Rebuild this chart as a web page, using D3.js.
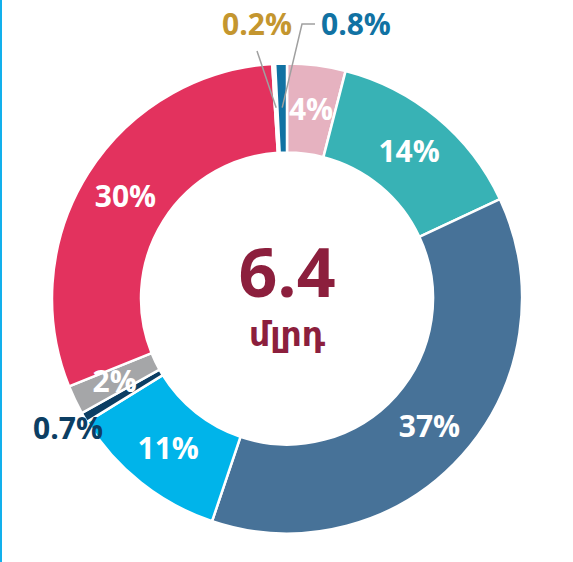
<!DOCTYPE html>
<html>
<head>
<meta charset="utf-8">
<script src="https://cdn.jsdelivr.net/npm/d3@7"></script>
<style>
  body { margin: 0; background: #fff; }
  svg { display: block; }
</style>
</head>
<body>
<svg width="573" height="562"></svg>
<script>
// slice data, clockwise from 12 o'clock
var labels = ["4%", "14%", "37%", "11%", "0.7%", "2%", "30%", "0.2%", "0.8%"];
var values = [4, 14, 37, 11, 0.7, 2, 30, 0.2, 0.8];
var colors = ["#e6b2c0", "#38b2b5", "#477298", "#00b4ea", "#0c3e63", "#a5a6a8", "#e3325e", "#ffffff", "#1172a3"];
// labels drawn outside the ring (with their text colour)
var outsideColors = {"0.7%": "#0c3e63", "0.2%": "#c4962f", "0.8%": "#1172a3"};
var centerValue = "6.4";
var centerUnit = "մլրդ";

var svg = d3.select("svg"),
    cx = 287, cy = 298.5,
    outerR = 235, innerR = 146;

// thin blue rule on the left edge
svg.append("line")
    .attr("x1", 1).attr("x2", 1)
    .attr("y1", 0).attr("y2", 562)
    .attr("stroke", "#12b0ec")
    .attr("stroke-width", 2);

var g = svg.append("g")
    .attr("transform", "translate(" + cx + "," + cy + ")");

var pie = d3.pie().sort(null).value(function(d) { return d; });
var arcs = pie(values);

var arc = d3.arc().innerRadius(innerR).outerRadius(outerR);
var labelArc = d3.arc().innerRadius(191).outerRadius(191);

g.selectAll(".slice")
  .data(arcs)
  .enter().append("path")
    .attr("class", "slice")
    .attr("d", arc)
    .attr("fill", function(d, i) { return colors[i]; })
    .attr("stroke", "#fff")
    .attr("stroke-width", 2.5);

var font = function(sel) {
  sel.style("font-family", "'Open Sans', sans-serif")
     .style("font-weight", "bold")
     .style("font-size", "30px");
};

// inside labels
g.selectAll(".lbl")
  .data(arcs.filter(function(d, i) { return !outsideColors[labels[i]]; }))
  .enter().append("text")
    .attr("class", "lbl")
    .attr("transform", function(d) { return "translate(" + labelArc.centroid(d) + ")"; })
    .attr("text-anchor", "middle")
    .attr("dy", "0.36em")
    .attr("fill", "#fff")
    .call(font)
    .text(function(d) { return labels[d.index]; });

// 0.2% with leader line
var p02 = labelArc.centroid(arcs[7]);
g.append("polyline")
    .attr("points", [p02, [257 - cx, 51 - cy]].join(" "))
    .attr("fill", "none").attr("stroke", "#a0a0a0").attr("stroke-width", 1.5);
g.append("text")
    .attr("x", 257 - cx).attr("y", 24 - cy).attr("dy", "0.36em")
    .attr("text-anchor", "middle")
    .attr("fill", outsideColors["0.2%"])
    .call(font)
    .text(labels[7]);

// 0.8% with elbow leader line
var p08 = labelArc.centroid(arcs[8]);
g.append("polyline")
    .attr("points", [p08, [302 - cx, 24 - cy], [315 - cx, 24 - cy]].join(" "))
    .attr("fill", "none").attr("stroke", "#a0a0a0").attr("stroke-width", 1.5);
g.append("text")
    .attr("x", 321 - cx).attr("y", 24 - cy).attr("dy", "0.36em")
    .attr("text-anchor", "start")
    .attr("fill", outsideColors["0.8%"])
    .call(font)
    .text(labels[8]);

// 0.7%
g.append("text")
    .attr("x", 68 - cx).attr("y", 428 - cy).attr("dy", "0.36em")
    .attr("text-anchor", "middle")
    .attr("fill", outsideColors["0.7%"])
    .call(font)
    .text(labels[4]);

// centre total
g.append("text")
    .attr("y", -2)
    .attr("text-anchor", "middle")
    .attr("fill", "#8c1f3d")
    .style("font-family", "'Open Sans', sans-serif")
    .style("font-weight", "bold")
    .style("font-size", "68px")
    .text(centerValue);

g.append("text")
    .attr("y", 47)
    .attr("text-anchor", "middle")
    .attr("fill", "#8c1f3d")
    .style("font-family", "'DejaVu Sans', sans-serif")
    .style("font-weight", "bold")
    .style("font-size", "33px")
    .text(centerUnit);
</script>
</body>
</html>
